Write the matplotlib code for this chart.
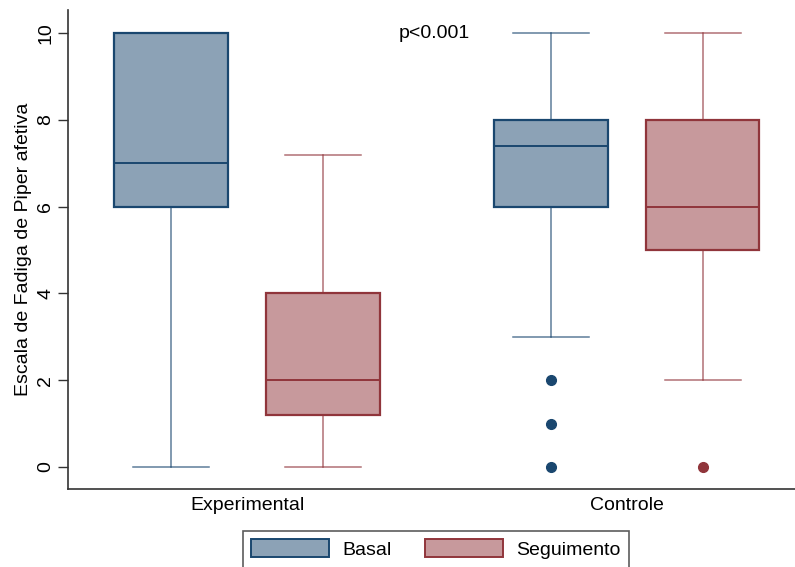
"""Boxplot: Escala de Fadiga de Piper afetiva, basal vs seguimento por grupo."""

import matplotlib

matplotlib.use("Agg")
import matplotlib.pyplot as plt  # noqa: E402
from matplotlib.patches import Patch  # noqa: E402

plt.rcParams["font.family"] = ["Liberation Sans", "DejaVu Sans"]

GROUPS = ["Experimental", "Controle"]
SERIES = ["Basal", "Seguimento"]

# summary stats per group, order: Experimental, Controle
BASAL_WHISLO = [0, 3]
BASAL_Q1 = [6, 6]
BASAL_MED = [7, 7.4]
BASAL_Q3 = [10, 8]
BASAL_WHISHI = [10, 10]
BASAL_FLIERS = [[], [2, 1, 0]]

SEG_WHISLO = [0, 2]
SEG_Q1 = [1.2, 5]
SEG_MED = [2, 6]
SEG_Q3 = [4, 8]
SEG_WHISHI = [7.2, 10]
SEG_FLIERS = [[], [0]]

P_TEXT = "p<0.001"
YTICKS = [0, 2, 4, 6, 8, 10]

NAVY = (26 / 255, 71 / 255, 111 / 255)
MAROON = (144 / 255, 53 / 255, 59 / 255)


def stats(whislo, q1, med, q3, whishi, fliers):
    return [
        dict(whislo=a, q1=b, med=c, q3=d, whishi=e, fliers=f)
        for a, b, c, d, e, f in zip(whislo, q1, med, q3, whishi, fliers)
    ]


fig = plt.figure(figsize=(7.95, 5.67), dpi=100)
ax = fig.add_axes([68 / 795, 1 - 489 / 567, 1 - 68 / 795 + 0.01, (489 - 10) / 567])

centers = [1, 2]
offset = 0.2
series = [
    (stats(BASAL_WHISLO, BASAL_Q1, BASAL_MED, BASAL_Q3, BASAL_WHISHI, BASAL_FLIERS), NAVY, -offset),
    (stats(SEG_WHISLO, SEG_Q1, SEG_MED, SEG_Q3, SEG_WHISHI, SEG_FLIERS), MAROON, offset),
]
for st, color, off in series:
    ax.bxp(
        st,
        positions=[c + off for c in centers],
        widths=0.3,
        patch_artist=True,
        showcaps=True,
        boxprops=dict(facecolor=(*color, 0.5), edgecolor=color, linewidth=1.6),
        medianprops=dict(color=color, linewidth=1.4),
        whiskerprops=dict(color=color, linewidth=1.1, alpha=0.7),
        capprops=dict(color=color, linewidth=1.1, alpha=0.7),
        capwidths=0.2,
        flierprops=dict(marker="o", markerfacecolor=color, markeredgecolor=color,
                        markersize=7, linestyle="none"),
        manage_ticks=False,
        zorder=2,
    )

ax.set_xlim(1 - 180 / 381, 1 + 558 / 381)
ax.set_ylim(-0.507, 10.53)
ax.set_xticks(centers)
ax.set_xticklabels(GROUPS, fontsize=14)
ax.tick_params(axis="x", length=0, pad=6)
ax.set_yticks(YTICKS)
ax.set_yticklabels([str(t) for t in YTICKS], fontsize=14, rotation=90, va="center")
ax.tick_params(axis="y", length=7, width=1, color="#333333", pad=3)
ax.set_ylabel("Escala de Fadiga de Piper afetiva", fontsize=14, labelpad=4)

for side in ("top", "right"):
    ax.spines[side].set_visible(False)
for side in ("left", "bottom"):
    ax.spines[side].set_color("#333333")
    ax.spines[side].set_linewidth(1.2)

ax.text(1 + 152 / 381, 10, P_TEXT, fontsize=14, ha="left", va="center")

handles = [
    Patch(facecolor=(*NAVY, 0.5), edgecolor=NAVY, linewidth=1.4),
    Patch(facecolor=(*MAROON, 0.5), edgecolor=MAROON, linewidth=1.4),
]
leg = fig.legend(
    handles, SERIES, loc="upper center", bbox_to_anchor=(436 / 795, 1 - 521 / 567),
    ncol=2, fontsize=14, frameon=True, fancybox=False, handlelength=4.0,
    handleheight=1.0, columnspacing=1.7, borderpad=0.45, handletextpad=0.7,
)
leg.get_frame().set_edgecolor("#333333")
leg.get_frame().set_linewidth(1.2)

fig.savefig("out.png", dpi=100)
